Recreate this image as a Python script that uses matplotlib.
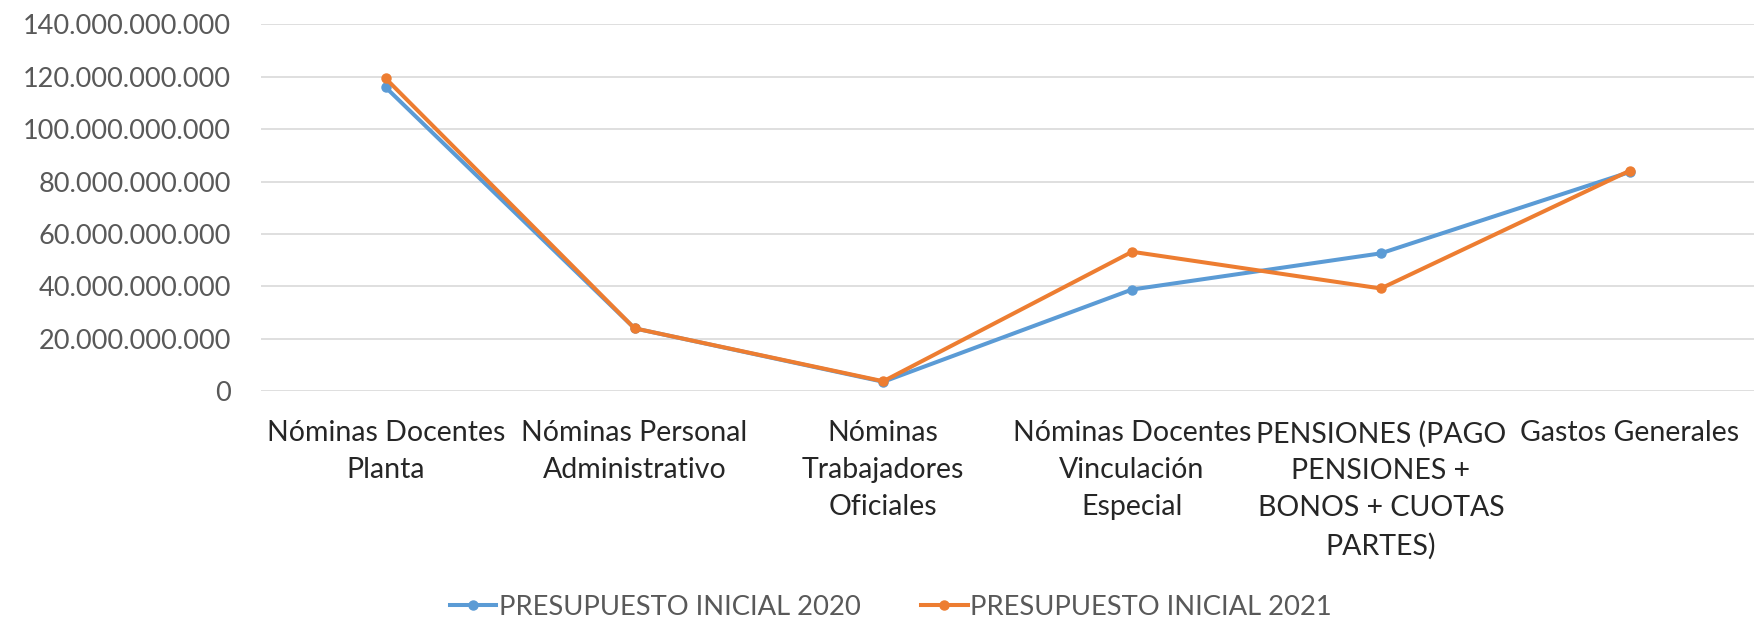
import matplotlib
matplotlib.use("Agg")
import matplotlib.pyplot as plt
from matplotlib.ticker import FuncFormatter

plt.rcParams['font.family'] = ['Lato', 'DejaVu Sans']

categorias = [
    "Nóminas Docentes\nPlanta",
    "Nóminas Personal\nAdministrativo",
    "Nóminas\nTrabajadores\nOficiales",
    "Nóminas Docentes\nVinculación\nEspecial",
    "PENSIONES (PAGO\nPENSIONES +\nBONOS + CUOTAS\nPARTES)",
    "Gastos Generales",
]
presupuesto_2020 = [115.9e9, 24.0e9, 3.6e9, 38.8e9, 52.6e9, 83.6e9]
presupuesto_2021 = [119.3e9, 24.0e9, 3.8e9, 53.2e9, 39.2e9, 84.1e9]

azul = '#5B9BD5'
naranja = '#ED7D31'
gris = '#595959'

fig = plt.figure(figsize=(17.54, 6.21), dpi=100)
ax = fig.add_axes([0.149, 0.370, 0.851, 0.591])

x = range(len(categorias))
ax.plot(x, presupuesto_2020, 'o-', color=azul, lw=2.9, ms=6.5, label='PRESUPUESTO INICIAL 2020')
ax.plot(x, presupuesto_2021, 'o-', color=naranja, lw=2.9, ms=6.5, label='PRESUPUESTO INICIAL 2021')

ax.set_xlim(-0.5, len(categorias) - 0.5)
ax.set_ylim(0, 140e9)
ax.set_yticks([i * 20e9 for i in range(8)])

def fmt(v, pos):
    return '{:,.0f}'.format(v).replace(',', '.')

ax.yaxis.set_major_formatter(FuncFormatter(fmt))
ax.set_xticks(list(x))
ax.set_xticklabels(categorias, linespacing=1.52)

ax.tick_params(axis='y', length=0, pad=22, labelsize=19.5, labelcolor=gris)
ax.tick_params(axis='x', length=0, pad=21, labelsize=20.5, labelcolor='#262626')
ax.grid(axis='y', color='#D9D9D9', lw=1.2)
ax.set_axisbelow(True)
for s in ax.spines.values():
    s.set_visible(False)

fig.legend(loc='center', bbox_to_anchor=(0.508, 0.022), ncol=2, frameon=False,
           fontsize=19.7, labelcolor=gris, handlelength=1.7, columnspacing=2.2,
           handletextpad=0.1)

plt.savefig('out.png', dpi=100)
